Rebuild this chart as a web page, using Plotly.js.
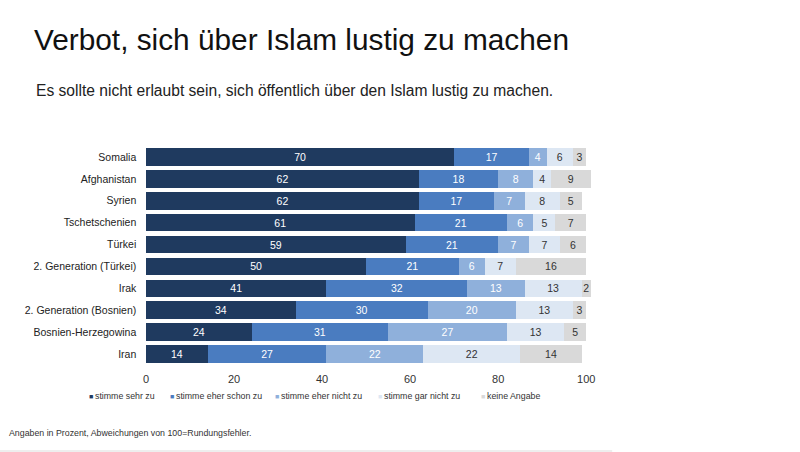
<!DOCTYPE html>
<html>
<head>
<meta charset="utf-8">
<script src="https://cdn.plot.ly/plotly-3.0.1.min.js"></script>
<style>html,body{margin:0;padding:0;background:#fff;}#chart{width:800px;height:452px;}</style>
</head>
<body>
<div id="chart"></div>
<script>
const categories = ["Somalia","Afghanistan","Syrien","Tschetschenien","Türkei","2. Generation (Türkei)","Irak","2. Generation (Bosnien)","Bosnien-Herzegowina","Iran"];
const seriesNames = ["stimme sehr zu","stimme eher schon zu","stimme eher nicht zu","stimme gar nicht zu","keine Angabe"];
const sehrZu      = [70,62,62,61,59,50,41,34,24,14];
const eherSchonZu = [17,18,17,21,21,21,32,30,31,27];
const eherNichtZu = [4,8,7,6,7,6,13,20,27,22];
const garNichtZu  = [6,4,8,5,7,7,13,13,13,22];
const keineAngabe = [3,9,5,7,6,16,2,3,5,14];
const xTicks = [0,20,40,60,80,100];

const colors = ["#1f3a5f","#4a7cc0","#8fb0db","#dde7f3","#d9d9d9"];
const textColors = ["#ffffff","#ffffff","#ffffff","#333333","#333333"];
const values = [sehrZu, eherSchonZu, eherNichtZu, garNichtZu, keineAngabe];

const font = "Liberation Sans, Arial, sans-serif";
const traces = values.map((v, i) => ({
  type: "bar",
  orientation: "h",
  name: seriesNames[i],
  y: categories,
  x: v,
  text: v.map(String),
  textposition: "inside",
  insidetextanchor: "middle",
  textangle: 0,
  constraintext: "none",
  textfont: {family: font, size: 10.5, color: textColors[i]},
  marker: {color: colors[i]},
  hoverinfo: "none"
}));

// plot area in pixels (x range 0..102, value 100 at 586px)
const XMAX = 102;
const L = 146, R = 146 + 440 * XMAX / 100, T = 146, B = 365;
const px = x => (x - L) / (R - L);
const py = y => (B - y) / (B - T);

const legendX = [87, 168, 273, 376, 479];
const annotations = [
  {text: "Es sollte nicht erlaubt sein, sich öffentlich über den Islam lustig zu machen.",
   xref: "paper", yref: "paper", x: px(34), y: py(90), xanchor: "left", yanchor: "middle",
   showarrow: false, font: {family: font, size: 15.6, color: "#222"}},
  {text: "Angaben in Prozent, Abweichungen von 100=Rundungsfehler.",
   xref: "paper", yref: "paper", x: px(7), y: py(433), xanchor: "left", yanchor: "middle",
   showarrow: false, font: {family: font, size: 8.8, color: "#333"}}
];
seriesNames.forEach((n, i) => {
  annotations.push({
    text: '<span style="color:' + colors[i] + ';font-size:7px">■</span>\u2009' + n,
    xref: "paper", yref: "paper", x: px(legendX[i]), y: py(396), xanchor: "left", yanchor: "middle",
    showarrow: false, font: {family: font, size: 8.8, color: "#333"}
  });
});

const layout = {
  width: 800, height: 452,
  margin: {l: L, r: 800 - R, t: T, b: 452 - B},
  paper_bgcolor: "#fff", plot_bgcolor: "#fff",
  barmode: "stack",
  bargap: 0.2,
  showlegend: false,
  uniformtext: {minsize: 10.5, mode: "show"},
  title: {text: "Verbot, sich über Islam lustig zu machen", xref: "container", yref: "container",
          x: 34/800, xanchor: "left", y: 1 - 40/452, yanchor: "middle",
          font: {family: font, size: 29.8, color: "#111"}},
  xaxis: {range: [0, XMAX], tickvals: xTicks, showgrid: false, zeroline: false, showline: false,
          ticks: "", ticklabelstandoff: 6, tickfont: {family: font, size: 11, color: "#333"}, fixedrange: true},
  yaxis: {autorange: "reversed", showgrid: false, zeroline: false, showline: false, ticks: "",
          ticksuffix: "   ", tickfont: {family: font, size: 10.5, color: "#222"}, fixedrange: true},
  annotations: annotations,
  shapes: [{type: "line", xref: "paper", yref: "paper", x0: px(0), x1: px(612), y0: py(451), y1: py(451),
            line: {color: "#dddddd", width: 1}}]
};

Plotly.newPlot("chart", traces, layout, {displayModeBar: false, staticPlot: true});
</script>
</body>
</html>
